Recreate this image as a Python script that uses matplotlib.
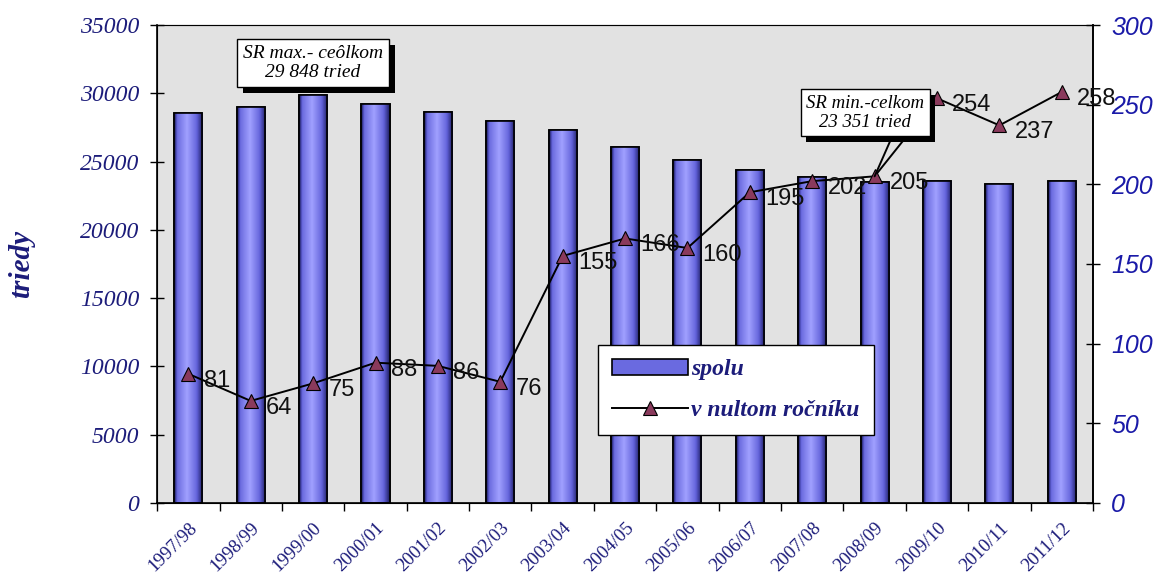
import numpy as np
import matplotlib
matplotlib.use("Agg")
import matplotlib.pyplot as plt
import matplotlib.patheffects as pe
from matplotlib.patches import Rectangle
from matplotlib.lines import Line2D
from matplotlib.colors import LinearSegmentedColormap

years = ["1997/98", "1998/99", "1999/00", "2000/01", "2001/02", "2002/03", "2003/04",
         "2004/05", "2005/06", "2006/07", "2007/08", "2008/09", "2009/10", "2010/11", "2011/12"]
spolu = [28550, 28990, 29848, 29210, 28620, 27960, 27300, 26060, 25110, 24380,
         23900, 23500, 23560, 23351, 23600]
nulty = [81, 64, 75, 88, 86, 76, 155, 166, 160, 195, 202, 205, 254, 237, 258]
left_ticks = [0, 5000, 10000, 15000, 20000, 25000, 30000, 35000]
right_ticks = [0, 50, 100, 150, 200, 250, 300]

navy = "#1c1c7a"
blue_r = "#1a1aa8"
serif = "Liberation Serif"
sans = "Liberation Sans"

fig = plt.figure(figsize=(11.64, 5.82), dpi=100)
ax = fig.add_axes([0.135, 0.136, 0.804, 0.821])
ax.set_facecolor("#e2e2e2")
x = np.arange(len(years))

bars = ax.bar(x, spolu, width=0.45, color="#8484f4", edgecolor="black", linewidth=1.2, zorder=2)
grad = np.linspace(0, 1, 64)
prof = np.interp(grad, [0, 0.12, 0.45, 0.75, 1.0], [0.05, 0.6, 1.0, 0.6, 0.1])
cmap = LinearSegmentedColormap.from_list("bb", ["#0c0c40", "#6060d8", "#a0a0ff"])
for b in bars:
    x0, y0 = b.get_x(), b.get_y()
    w, h = b.get_width(), b.get_height()
    im = ax.imshow(prof[None, :], extent=[x0, x0 + w, y0, y0 + h], aspect="auto",
                   cmap=cmap, vmin=0, vmax=1, zorder=2.1, interpolation="bilinear")
    im.set_clip_path(b)
    ax.add_patch(Rectangle((x0, y0), w, h, fill=False, edgecolor="black", linewidth=1.2, zorder=2.2))

ax.set_xlim(-0.5, len(years) - 0.5)
ax.set_ylim(0, 35000)
ax.set_yticks(left_ticks)
ax.set_yticklabels([str(v) for v in left_ticks], fontfamily=serif, fontstyle="italic",
                   fontsize=17, color=navy)
ax.tick_params(axis="y", direction="inout", length=10, width=1, pad=8)
ax.set_xticks(x)
ax.set_xticklabels(years, rotation=45, ha="right", rotation_mode="anchor",
                   fontfamily=serif, fontsize=13.5, color=navy)
ax.tick_params(axis="x", length=0, pad=12)
ax.set_xticks(np.arange(-0.5, len(years), 1.0), minor=True)
ax.tick_params(axis="x", which="minor", direction="out", length=6, width=1)
for s in ["left", "bottom", "right"]:
    ax.spines[s].set_color("black")
    ax.spines[s].set_linewidth(1.2)
ax.spines["top"].set_color("#555555")
ax.set_ylabel("triedy", fontfamily=serif, fontstyle="italic", fontweight="bold",
              fontsize=21, color=navy)
ax.yaxis.set_label_coords(-0.13, 0.5)

ax2 = ax.twinx()
ax2.set_ylim(0, 300)
ax2.set_yticks(right_ticks)
ax2.set_yticklabels([str(v) for v in right_ticks], fontfamily=sans, fontstyle="italic",
                    fontsize=18, color=blue_r)
ax2.tick_params(axis="y", direction="inout", length=10, width=1, pad=8)
ax2.spines["right"].set_linewidth(1.2)
ax2.plot(x, nulty, color="black", linewidth=1.4, marker="^", markersize=10,
         markerfacecolor="#8a3a5c", markeredgecolor="black", markeredgewidth=0.8, zorder=3)
for xi, v in zip(x, nulty):
    ax2.annotate(str(v), (xi, v), xytext=(11, -5), textcoords="offset points",
                 ha="left", va="center", fontfamily=sans, fontsize=17, color="#111111", zorder=4)

shadow = [pe.withSimplePatchShadow(offset=(4, -4), shadow_rgbFace="black", alpha=1.0)]
t1 = ax.text(2.0, 32200, "SR max.- ceôlkom\n29 848 tried", ha="center", va="center",
             fontfamily=serif, fontstyle="italic", fontsize=14, linespacing=1.15,
             bbox=dict(boxstyle="square,pad=0.3", facecolor="white", edgecolor="black", linewidth=1),
             zorder=6)
t1.get_bbox_patch().set_path_effects(shadow)
t2 = ax2.annotate("SR min.-celkom\n23 351 tried", xy=(11, 205), xytext=(10.85, 245),
                  ha="center", va="center", fontfamily=serif, fontstyle="italic", fontsize=13.5,
                  linespacing=1.15,
                  bbox=dict(boxstyle="square,pad=0.3", facecolor="white", edgecolor="black", linewidth=1),
                  arrowprops=dict(arrowstyle="-", color="black", lw=1.4, shrinkA=0, shrinkB=0,
                                  relpos=(0.75, 0)),
                  zorder=6)
t2.get_bbox_patch().set_path_effects(shadow)

h_bar = Rectangle((0, 0), 1, 1, facecolor="#6a6ae0", edgecolor="black", linewidth=1.2)
h_line = Line2D([], [], color="black", linewidth=1.4, marker="^", markersize=10,
                markerfacecolor="#8a3a5c", markeredgecolor="black", markeredgewidth=0.8)
leg = ax2.legend([h_bar, h_line], ["spolu", "v nultom ročníku"], loc="lower left",
                 bbox_to_anchor=(0.471, 0.142), borderaxespad=0, frameon=True, fancybox=False,
                 edgecolor="black", framealpha=1, borderpad=0.6, labelspacing=0.8,
                 handlelength=3.2, handletextpad=0.15,
                 prop=dict(family=serif, style="italic", weight="bold", size=17))
leg.get_frame().set_linewidth(1)
for t in leg.get_texts():
    t.set_color(navy)
leg.set_zorder(7)

fig.savefig("out.png", dpi=100)
